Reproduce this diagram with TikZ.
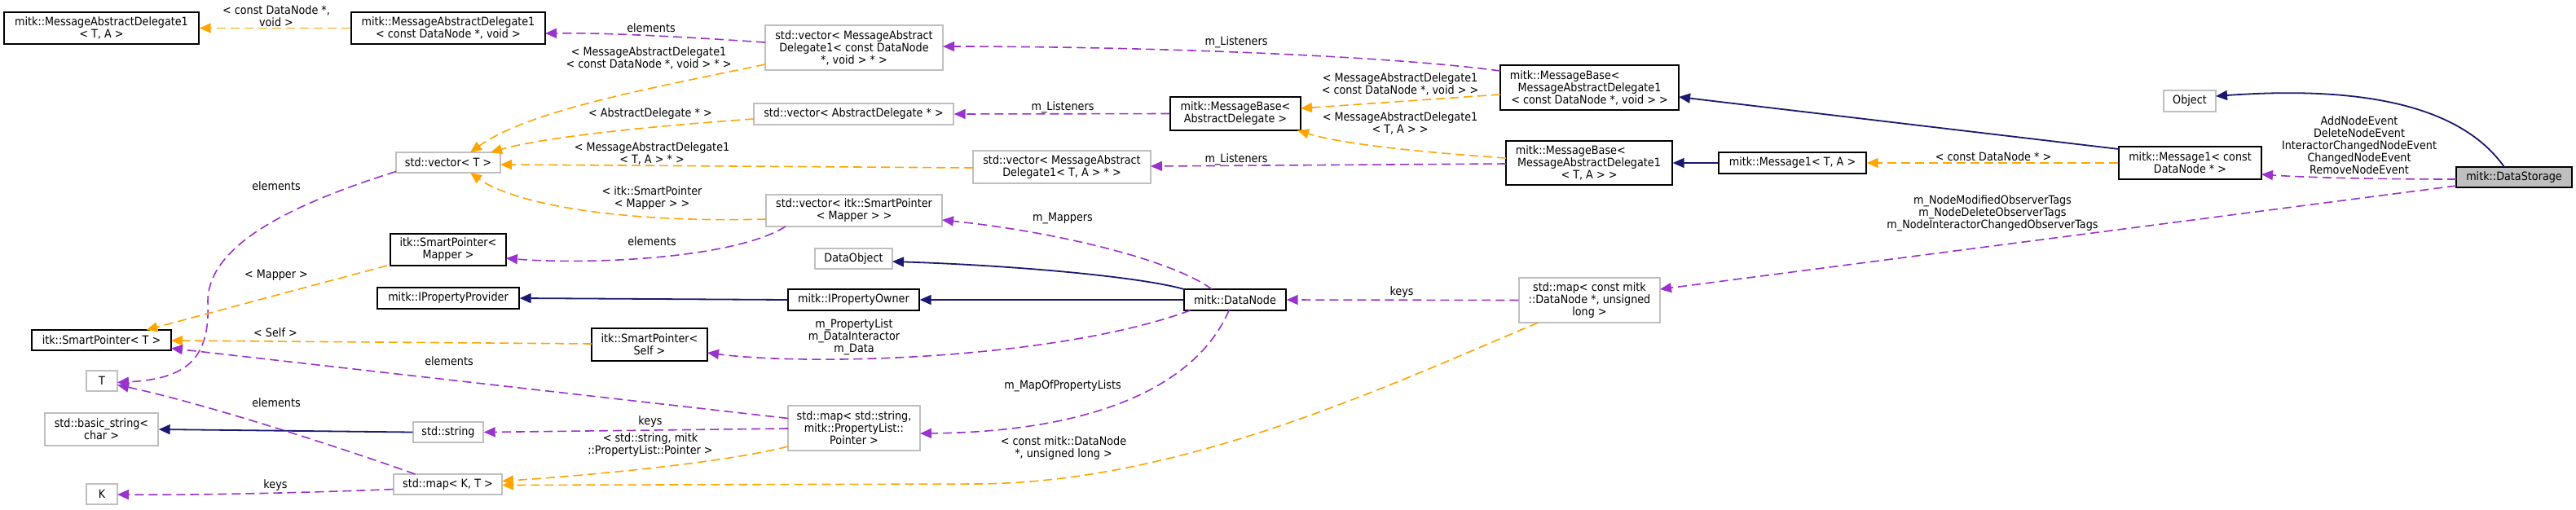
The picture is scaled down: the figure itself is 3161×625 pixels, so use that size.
\documentclass[tikz,border=0pt]{standalone}
\usepackage{fontspec}
\setmainfont{DejaVu Sans}[FakeStretch=0.9]
\usetikzlibrary{arrows.meta}
\definecolor{navyc}{HTML}{191970}
\definecolor{orngc}{HTML}{FFA500}
\definecolor{purpc}{HTML}{9A32CD}
\definecolor{greyb}{HTML}{BFBFBF}
\newcommand{\dfs}{\fontsize{14.2}{15}\selectfont}
\tikzset{
  cls/.style={draw=black, line width=1.4pt, fill=white, align=center, inner sep=0pt, font=\dfs},
  ucls/.style={cls, draw=greyb},
  sz/.style 2 args={minimum width=#1pt, minimum height=#2pt},
  lbl/.style={align=center, inner sep=0pt, font=\dfs},
  tipx/.style={-{Triangle[length=14pt,width=12pt]}},
  inh/.style={draw=navyc, line width=1.8pt, tipx},
  usee/.style={draw=purpc, line width=1.6pt, dash pattern=on 11pt off 6pt, tipx},
  tmpl/.style={draw=orngc, line width=1.6pt, dash pattern=on 11pt off 6pt, tipx}
}
\begin{document}
\begin{tikzpicture}[x=1pt,y=-1pt]
\fill[white] (0,0) rectangle (3161,625);
\useasboundingbox (0,0) rectangle (3161,625);

% nodes
\node[cls, sz={239}{39}] (n1) at (124.5,34.5) {mitk::MessageAbstractDelegate1\\< T, A >};
\node[cls, sz={238}{39}] (n2) at (550,34.5) {mitk::MessageAbstractDelegate1\\< const DataNode *, void >};
\node[ucls, sz={218}{55}] (vmc) at (1048,58.5) {std::vector< MessageAbstract\\Delegate1< const DataNode\\{}*, void > * >};
\node[ucls, sz={245}{26}] (vad) at (1047.5,140) {std::vector< AbstractDelegate * >};
\node[cls, sz={160}{41}] (mbad) at (1516,139.5) {mitk::MessageBase<\\AbstractDelegate >};
\node[ucls, sz={218}{40}] (vmta) at (1303,205) {std::vector< MessageAbstract\\Delegate1< T, A > * >};
\node[ucls, sz={216}{39}] (vspm) at (1048,258.5) {std::vector< itk::SmartPointer\\< Mapper > >};
\node[ucls, sz={95}{25}] (dobj) at (1047.5,317.5) {DataObject};
\node[ucls, sz={128}{25}] (vt) at (550,199.5) {std::vector< T >};
\node[cls, sz={142}{39}] (spm) at (550,306.5) {itk::SmartPointer<\\Mapper >};
\node[cls, sz={174}{26}] (ipp) at (550,366) {mitk::IPropertyProvider};
\node[cls, sz={171}{25}] (spt) at (124.5,417.5) {itk::SmartPointer< T >};
\node[cls, sz={142}{40}] (sps) at (797,423) {itk::SmartPointer<\\Self >};
\node[ucls, sz={38}{25}] (tt) at (125,467.5) {T};
\node[ucls, sz={139}{40}] (bs) at (124.5,527) {std::basic\_string<\\char >};
\node[ucls, sz={86}{25}] (str) at (550,530.5) {std::string};
\node[ucls, sz={133}{25}] (mkt) at (549.5,594.5) {std::map< K, T >};
\node[ucls, sz={38}{25}] (kk) at (125,606.5) {K};
\node[cls, sz={161}{26}] (ipo) at (1047.5,368) {mitk::IPropertyOwner};
\node[cls, sz={125}{26}] (dn) at (1515.5,368) {mitk::DataNode};
\node[ucls, sz={162}{55}] (msp) at (1048,525.5) {std::map< std::string,\\mitk::PropertyList::\\Pointer >};
\node[cls, sz={219}{55}] (mbc) at (1950.5,107.5) {mitk::MessageBase<\hphantom{xxxxxxxx}\\MessageAbstractDelegate1\\< const DataNode *, void > >};
\node[cls, sz={204}{54}] (mbta) at (1950,200) {mitk::MessageBase<\hphantom{xxxxxx}\\MessageAbstractDelegate1\\< T, A > >};
\node[cls, sz={181}{26}] (m1ta) at (2199.5,200) {mitk::Message1< T, A >};
\node[ucls, sz={173}{55}] (mdn) at (1950.5,368.5) {std::map< const mitk\\::DataNode *, unsigned\\long >};
\node[ucls, sz={64}{26}] (obj) at (2687,124) {Object};
\node[cls, sz={175}{40}] (m1c) at (2687.5,200) {mitk::Message1< const\\DataNode * >};
\node[cls, sz={142}{25}, fill=greyb] (ds) at (3085,217.5) {mitk::DataStorage};

% edges
\draw[tmpl] (n2.west) -- (n1.east);
\draw[usee] ([shift={(-109,-6.5)}]vmc.center) .. controls (850,46) and (750,40) .. ([shift={(119,6.5)}]n2.center);
\draw[tmpl] ([shift={(-109,20.5)}]vmc.center) .. controls (800,108) and (650,135) .. ([shift={(27,-12.5)}]vt.center);
\draw[tmpl] ([shift={(-122.5,6)}]vad.center) .. controls (840,152) and (680,165) .. ([shift={(52,-12.5)}]vt.center);
\draw[tmpl] ([shift={(-109,1)}]vmta.center) -- ([shift={(64,2.5)}]vt.center);
\draw[tmpl] ([shift={(-108,10.5)}]vspm.center) .. controls (760,274) and (630,250) .. ([shift={(27,12.5)}]vt.center);
\draw[usee] ([shift={(-64,11)}]vt.center) .. controls (360,250) and (255,300) .. (255,370) .. controls (258,440) and (230,465) .. ([shift={(19,2)}]tt.center);
\draw[usee] ([shift={(-84,19.5)}]vspm.center) .. controls (900,318) and (720,325) .. ([shift={(71,10.5)}]spm.center);
\draw[tmpl] ([shift={(-75,19.5)}]spm.center) -- ([shift={(55,-12.5)}]spt.center);
\draw[inh] (ipo.west) -- (ipp.east);
\draw[tmpl] ([shift={(-71,-1)}]sps.center) -- ([shift={(85.5,0.5)}]spt.center);
\draw[usee] ([shift={(-81,-12)}]msp.center) -- ([shift={(85.5,10)}]spt.center);
\draw[usee] ([shift={(-40,-12.5)}]mkt.center) .. controls (420,550) and (250,495) .. ([shift={(19,5)}]tt.center);
\draw[inh] (str.west) -- (bs.east);
\draw[usee] ([shift={(-81,0.5)}]msp.center) -- (str.east);
\draw[tmpl] ([shift={(-81,22.5)}]msp.center) .. controls (880,570) and (700,585) .. ([shift={(66.5,-4)}]mkt.center);
\draw[tmpl] ([shift={(-63,27.5)}]mdn.center) .. controls (1700,475) and (1450,592) .. (1200,594) -- ([shift={(66.5,1)}]mkt.center);
\draw[usee] ([shift={(0,6)}]mkt.west) .. controls (400,604) and (250,608) .. ([shift={(19,0.5)}]kk.center);
\draw[inh] ([shift={(-62.5,-13)}]dn.center) .. controls (1400,340) and (1250,326) .. ([shift={(47.5,3.5)}]dobj.center);
\draw[inh] (dn.west) -- (ipo.east);
\draw[usee] ([shift={(-55,13)}]dn.center) .. controls (1300,440) and (1000,450) .. ([shift={(71,10)}]sps.center);
\draw[usee] ([shift={(-28.5,-13)}]dn.center) .. controls (1440,320) and (1300,285) .. ([shift={(108,11.5)}]vspm.center);
\draw[usee] ([shift={(-7.5,13)}]dn.center) .. controls (1470,470) and (1350,530) .. ([shift={(81,6.5)}]msp.center);
\draw[usee] (mdn.west) -- (dn.east);
\draw[usee] ([shift={(-109.5,-20.5)}]mbc.center) .. controls (1700,68) and (1400,57) .. ([shift={(109,-1.5)}]vmc.center);
\draw[tmpl] ([shift={(-109.5,8.5)}]mbc.center) -- ([shift={(80,-6.5)}]mbad.center);
\draw[usee] (mbad.west) -- (vad.east);
\draw[tmpl] ([shift={(-102,-6)}]mbta.center) .. controls (1760,188) and (1650,178) .. ([shift={(76,20.5)}]mbad.center);
\draw[usee] ([shift={(-102,1)}]mbta.center) -- ([shift={(109,-1)}]vmta.center);
\draw[inh] (m1ta.west) -- (mbta.east);
\draw[tmpl] (m1c.west) -- (m1ta.east);
\draw[inh] ([shift={(-87.5,-17)}]m1c.center) -- ([shift={(109.5,11.5)}]mbc.center);
\draw[inh] ([shift={(-12,-12.5)}]ds.center) .. controls (3020,130) and (2900,105) .. ([shift={(32,-6)}]obj.center);
\draw[usee] ([shift={(-71,2.5)}]ds.center) .. controls (2920,220) and (2830,218) .. ([shift={(87.5,14)}]m1c.center);
\draw[usee] ([shift={(-71,10.5)}]ds.center) -- ([shift={(86.5,-13.5)}]mdn.center);

% edge labels
\node[lbl] (l1) at (339,19.5) {< const DataNode *,\\void >};
\node[lbl] (l2) at (799,34) {elements};
\node[lbl] (l3) at (796,71.5) {< MessageAbstractDelegate1\\< const DataNode *, void > * >};
\node[lbl] (l4) at (798,140) {< AbstractDelegate * >};
\node[lbl] (l5) at (800,188) {< MessageAbstractDelegate1\\< T, A > * >};
\node[lbl] (l6) at (800,243) {< itk::SmartPointer\\< Mapper > >};
\node[lbl] (l7) at (800,296) {elements};
\node[lbl] (l8) at (339,228) {elements};
\node[lbl] (l9) at (339,338) {< Mapper >};
\node[lbl] (l10) at (338,408) {< Self >};
\node[lbl] (l11) at (551,443) {elements};
\node[lbl] (l12) at (339,494) {elements};
\node[lbl] (l13) at (798,518) {keys};
\node[lbl] (l14) at (798,546.5) {< std::string, mitk\\::PropertyList::Pointer >};
\node[lbl] (l15) at (338,596) {keys};
\node[lbl] (l16) at (1048,414) {m\_PropertyList\\m\_DataInteractor\\m\_Data};
\node[lbl] (l17) at (1304,474) {m\_MapOfPropertyLists};
\node[lbl] (l18) at (1305,550) {< const mitk::DataNode\\{}*, unsigned long >};
\node[lbl] (l19) at (1304,268) {m\_Mappers};
\node[lbl] (l20) at (1720,359) {keys};
\node[lbl] (l21) at (1517,52) {m\_Listeners};
\node[lbl] (l22) at (1718,103) {< MessageAbstractDelegate1\\< const DataNode *, void > >};
\node[lbl] (l23) at (1304,132) {m\_Listeners};
\node[lbl] (l24) at (1718,151.5) {< MessageAbstractDelegate1\\< T, A > >};
\node[lbl] (l25) at (1517,196) {m\_Listeners};
\node[lbl] (l26) at (2446,192) {< const DataNode * >};
\node[lbl] (l27) at (2895,178) {AddNodeEvent\\DeleteNodeEvent\\InteractorChangedNodeEvent\\ChangedNodeEvent\\RemoveNodeEvent};
\node[lbl] (l28) at (2445,262) {m\_NodeModifiedObserverTags\\m\_NodeDeleteObserverTags\\m\_NodeInteractorChangedObserverTags};
\end{tikzpicture}
\end{document}
